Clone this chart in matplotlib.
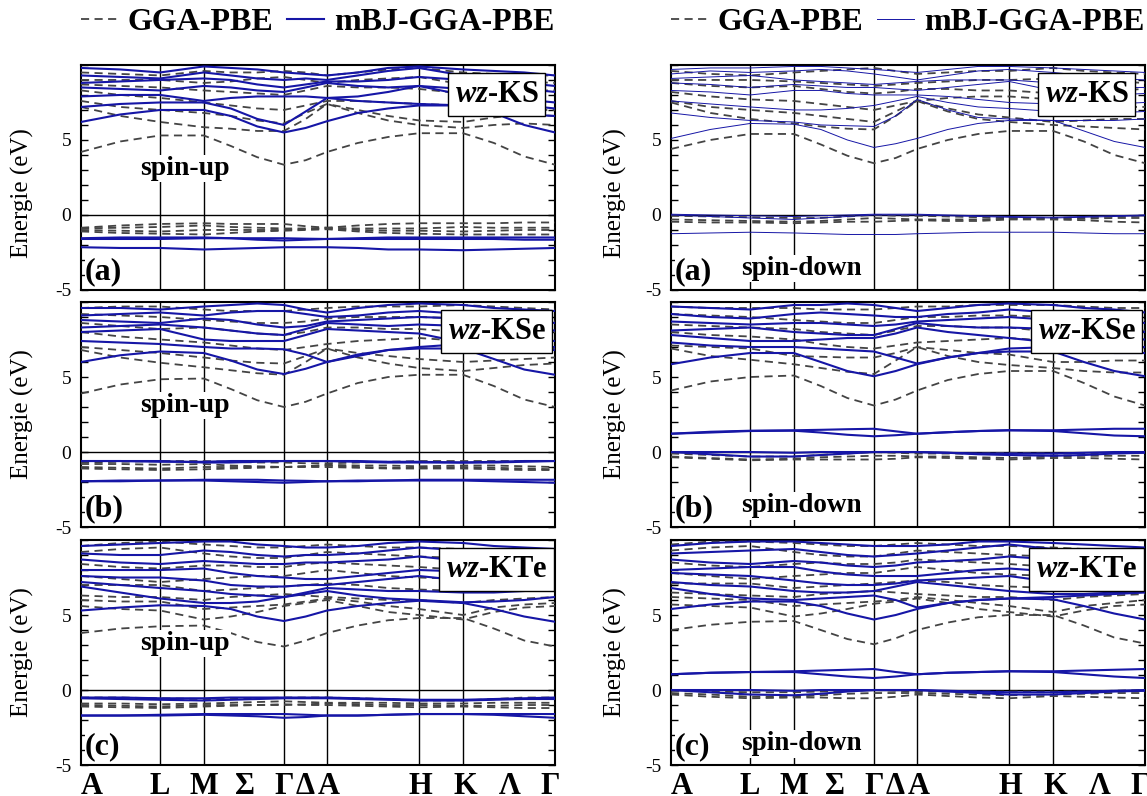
import matplotlib
matplotlib.use('Agg')
import matplotlib.pyplot as plt
from matplotlib.lines import Line2D
from matplotlib.ticker import MultipleLocator

plt.rcParams['font.family'] = ['Liberation Serif', 'DejaVu Serif']
plt.rcParams['mathtext.fontset'] = 'custom'
plt.rcParams['mathtext.it'] = 'Liberation Serif:italic:bold'
plt.rcParams['axes.unicode_minus'] = False

# k path (fraction of path length) and high-symmetry points
kgrid = [0.0, 0.083, 0.167, 0.259, 0.316, 0.372, 0.428, 0.474, 0.519,
         0.584, 0.648, 0.713, 0.806, 0.871, 0.935, 1.0]
kpoints = [0.0, 0.167, 0.259, 0.428, 0.519, 0.713, 0.806, 1.0]
klabel_pos = [0.023, 0.167, 0.259, 0.346, 0.428, 0.472, 0.522, 0.715, 0.81, 0.905, 0.99]
klabels = ['A', 'L', 'M', 'Σ', 'Γ', 'Δ', 'A', 'H', 'K', 'Λ', 'Γ']

# ---- wz-KS spin-up
ks_up_gga = [
    [4.2, 4.9, 5.3, 5.3, 4.6, 3.85, 3.35, 3.65, 4.2, 4.8, 5.2, 5.45, 5.45, 4.8, 3.9, 3.35],
    [7.2, 6.6, 6.2, 5.85, 5.75, 5.6, 5.6, 6.4, 7.4, 6.8, 6.3, 6.0, 5.8, 6.0, 6.1, 6.0],
    [7.6, 7.2, 7.0, 6.8, 6.6, 6.3, 6.1, 6.8, 7.4, 7.0, 6.6, 6.3, 6.2, 6.5, 6.7, 6.6],
    [8.3, 8.0, 7.8, 7.5, 7.3, 7.1, 7.0, 7.3, 7.6, 7.6, 7.5, 7.4, 7.3, 7.1, 7.0, 7.0],
    [8.7, 8.6, 8.5, 8.3, 8.2, 8.1, 8.0, 8.3, 8.6, 8.5, 8.5, 8.4, 8.1, 8.2, 8.3, 8.3],
    [9.0, 9.0, 9.0, 8.8, 8.9, 9.1, 9.2, 9.0, 8.8, 9.0, 9.1, 9.2, 8.7, 8.8, 8.9, 8.8],
    [9.5, 9.4, 9.3, 9.6, 9.5, 9.5, 9.6, 9.5, 9.3, 9.5, 9.7, 9.8, 9.5, 9.4, 9.3, 9.3],
    [-0.85, -0.7, -0.6, -0.55, -0.6, -0.6, -0.6, -0.75, -0.85, -0.7, -0.6, -0.55, -0.55, -0.55, -0.5, -0.5],
    [-0.9, -0.85, -0.8, -0.7, -0.8, -0.85, -0.9, -0.9, -0.85, -0.9, -0.9, -0.9, -0.8, -0.85, -0.85, -0.85],
    [-1.0, -1.05, -1.1, -1.0, -1.0, -1.0, -1.0, -0.95, -0.9, -1.0, -1.05, -1.05, -1.1, -1.05, -1.0, -1.0],
    [-1.1, -1.2, -1.25, -1.3, -1.2, -1.1, -1.05, -1.0, -0.95, -1.1, -1.2, -1.25, -1.3, -1.3, -1.3, -1.3],
]
ks_up_mbj = [
    [6.2, 6.7, 7.0, 7.0, 6.6, 5.9, 5.5, 5.8, 6.25, 6.8, 7.1, 7.3, 7.3, 6.8, 6.0, 5.5],
    [7.2, 7.4, 7.5, 7.5, 7.1, 6.4, 6.0, 6.9, 7.8, 7.6, 7.5, 7.4, 7.3, 7.0, 6.7, 6.6],
    [7.9, 8.0, 8.0, 7.6, 7.8, 7.9, 7.9, 7.9, 7.8, 7.9, 8.2, 8.6, 8.0, 7.6, 7.3, 7.1],
    [8.5, 8.4, 8.3, 8.6, 8.5, 8.3, 8.2, 8.5, 8.8, 8.6, 8.5, 8.6, 8.4, 8.0, 7.7, 7.5],
    [8.8, 8.9, 9.0, 9.1, 9.0, 8.7, 8.5, 8.7, 8.9, 8.9, 9.0, 9.2, 9.0, 8.6, 8.4, 8.2],
    [9.3, 9.2, 9.1, 9.5, 9.3, 9.1, 9.0, 9.1, 9.0, 9.3, 9.6, 9.8, 9.3, 9.0, 8.8, 8.6],
    [9.8, 9.7, 9.5, 9.9, 9.8, 9.7, 9.5, 9.4, 9.3, 9.5, 9.8, 9.9, 9.7, 9.6, 9.5, 9.3],
    [-1.55, -1.5, -1.5, -1.5, -1.55, -1.65, -1.7, -1.65, -1.6, -1.55, -1.5, -1.5, -1.5, -1.5, -1.5, -1.5],
    [-1.6, -1.6, -1.6, -1.55, -1.55, -1.55, -1.55, -1.58, -1.6, -1.6, -1.6, -1.6, -1.6, -1.6, -1.65, -1.65],
    [-2.15, -2.2, -2.2, -2.3, -2.25, -2.2, -2.15, -2.15, -2.15, -2.2, -2.3, -2.3, -2.35, -2.3, -2.25, -2.2],
]

# ---- wz-KS spin-down
ks_dn_gga = [
    [4.4, 5.0, 5.4, 5.4, 4.7, 3.95, 3.45, 3.8, 4.4, 5.0, 5.4, 5.6, 5.6, 4.9, 4.0, 3.45],
    [7.5, 6.8, 6.4, 6.1, 5.9, 5.75, 5.7, 6.6, 7.6, 6.9, 6.4, 6.2, 6.0, 5.9, 5.8, 5.7],
    [7.6, 7.2, 7.0, 6.8, 6.6, 6.4, 6.2, 6.9, 7.6, 7.1, 6.7, 6.5, 6.2, 6.3, 6.4, 6.4],
    [8.2, 7.9, 7.7, 7.6, 7.4, 7.2, 7.0, 7.3, 7.6, 7.8, 7.9, 7.9, 7.7, 7.4, 7.2, 7.2],
    [8.8, 8.6, 8.5, 8.6, 8.4, 8.2, 8.1, 8.2, 8.4, 8.4, 8.3, 8.3, 8.1, 8.2, 8.3, 8.4],
    [9.0, 9.0, 9.0, 8.9, 8.8, 8.7, 8.6, 8.7, 8.8, 8.9, 9.0, 9.0, 9.1, 9.0, 8.9, 8.8],
    [9.6, 9.4, 9.3, 9.5, 9.6, 9.7, 9.8, 9.6, 9.4, 9.5, 9.6, 9.6, 9.8, 9.6, 9.5, 9.4],
    [-0.05, -0.1, -0.15, -0.2, -0.2, -0.1, 0.0, -0.05, -0.05, -0.1, -0.15, -0.2, -0.2, -0.15, -0.1, -0.05],
    [-0.3, -0.35, -0.4, -0.45, -0.4, -0.3, -0.2, -0.25, -0.3, -0.3, -0.3, -0.25, -0.25, -0.25, -0.2, -0.2],
    [-0.45, -0.5, -0.5, -0.55, -0.5, -0.45, -0.45, -0.4, -0.35, -0.4, -0.4, -0.3, -0.3, -0.35, -0.45, -0.5],
]
ks_dn_mbj = [
    [5.1, 5.7, 6.1, 6.05, 5.7, 5.0, 4.5, 4.75, 5.1, 5.7, 6.1, 6.3, 6.3, 5.6, 4.9, 4.5],
    [6.8, 6.5, 6.3, 6.2, 6.0, 5.95, 5.9, 6.6, 7.7, 7.0, 6.5, 6.4, 6.3, 6.3, 6.3, 6.4],
    [7.6, 7.4, 7.2, 7.0, 7.0, 7.1, 7.3, 7.6, 7.9, 7.5, 7.2, 7.1, 6.9, 6.8, 6.8, 6.9],
    [8.3, 8.2, 8.0, 8.3, 8.3, 8.1, 8.0, 8.0, 8.0, 7.9, 7.7, 7.5, 7.4, 7.3, 7.4, 7.5],
    [8.8, 8.7, 8.5, 8.7, 8.6, 8.5, 8.5, 8.4, 8.3, 8.5, 8.7, 8.9, 8.3, 8.1, 8.0, 8.1],
    [9.1, 9.2, 9.3, 9.0, 8.9, 8.8, 8.7, 8.8, 8.9, 9.0, 9.0, 9.0, 8.8, 8.6, 8.5, 8.5],
    [9.4, 9.6, 9.5, 9.6, 9.7, 9.6, 9.4, 9.2, 9.0, 9.3, 9.6, 9.7, 9.5, 9.3, 9.1, 9.0],
    [9.7, 9.8, 9.8, 9.9, 9.9, 9.8, 9.7, 9.6, 9.5, 9.7, 9.9, 9.9, 9.8, 9.7, 9.6, 9.5],
    [0.05, 0.0, -0.05, -0.1, -0.05, 0.0, 0.05, 0.05, 0.05, 0.0, -0.05, -0.1, -0.15, -0.1, -0.05, 0.0],
    [0.0, -0.1, -0.2, -0.3, -0.2, -0.1, 0.0, 0.0, 0.0, -0.05, -0.1, -0.15, -0.2, -0.15, -0.1, -0.05],
    [-1.25, -1.2, -1.15, -1.2, -1.25, -1.3, -1.3, -1.3, -1.25, -1.2, -1.15, -1.15, -1.15, -1.2, -1.25, -1.25],
]

# ---- wz-KSe spin-up
kse_up_gga = [
    [3.9, 4.5, 4.85, 4.9, 4.2, 3.45, 3.0, 3.35, 3.9, 4.6, 5.0, 5.15, 5.15, 4.4, 3.5, 3.0],
    [6.8, 6.3, 5.95, 5.65, 5.45, 5.25, 5.15, 6.0, 6.9, 6.3, 5.9, 5.6, 5.4, 5.6, 5.8, 5.9],
    [7.0, 6.8, 6.6, 6.3, 6.1, 5.95, 5.9, 6.4, 6.9, 6.6, 6.4, 6.2, 6.0, 6.1, 6.2, 6.3],
    [8.0, 7.7, 7.5, 7.3, 7.1, 6.9, 6.8, 7.0, 7.2, 7.4, 7.5, 7.6, 7.4, 7.2, 7.0, 6.9],
    [8.6, 8.4, 8.2, 8.3, 8.1, 7.9, 7.8, 8.0, 8.3, 8.3, 8.2, 8.2, 8.0, 8.0, 8.0, 8.0],
    [9.2, 9.1, 9.0, 8.8, 8.7, 8.6, 8.6, 8.7, 8.9, 9.0, 9.0, 9.0, 8.9, 8.8, 8.7, 8.7],
    [9.6, 9.7, 9.7, 9.5, 9.4, 9.4, 9.4, 9.5, 9.6, 9.7, 9.7, 9.7, 9.8, 9.7, 9.6, 9.5],
    [-0.7, -0.65, -0.6, -0.6, -0.65, -0.7, -0.7, -0.75, -0.75, -0.7, -0.65, -0.6, -0.6, -0.6, -0.6, -0.6],
    [-0.8, -0.8, -0.85, -0.8, -0.9, -0.95, -1.0, -0.95, -0.85, -0.9, -0.9, -0.95, -0.9, -0.9, -0.95, -1.0],
    [-1.0, -1.05, -1.1, -1.0, -1.0, -1.0, -1.0, -0.95, -0.9, -1.0, -1.05, -1.05, -1.0, -1.05, -1.1, -1.15],
    [-1.1, -1.15, -1.2, -1.15, -1.1, -1.05, -1.0, -1.0, -1.0, -1.05, -1.1, -1.1, -1.1, -1.15, -1.2, -1.2],
]
kse_up_mbj = [
    [6.0, 6.45, 6.7, 6.6, 6.1, 5.5, 5.2, 5.55, 6.0, 6.5, 6.8, 6.9, 6.9, 6.2, 5.5, 5.15],
    [7.4, 7.3, 7.2, 7.0, 6.9, 6.9, 6.85, 6.5, 6.0, 6.4, 6.8, 7.0, 7.2, 7.0, 6.8, 6.8],
    [8.0, 8.1, 8.2, 7.5, 7.4, 7.4, 7.4, 7.8, 8.2, 8.1, 8.0, 7.9, 7.3, 7.0, 6.9, 7.0],
    [8.3, 8.4, 8.5, 8.3, 8.1, 7.9, 7.8, 8.2, 8.6, 8.5, 8.4, 8.5, 8.4, 8.0, 7.6, 7.4],
    [8.8, 8.7, 8.6, 8.9, 8.8, 8.5, 8.3, 8.4, 8.7, 8.8, 8.9, 9.0, 8.9, 8.5, 8.2, 8.1],
    [9.1, 9.2, 9.3, 9.1, 9.3, 9.4, 9.4, 9.2, 9.0, 9.1, 9.3, 9.4, 9.2, 9.0, 8.8, 8.6],
    [9.6, 9.6, 9.5, 9.7, 9.8, 9.9, 9.8, 9.5, 9.3, 9.6, 9.8, 9.9, 9.8, 9.6, 9.5, 9.4],
    [-0.6, -0.6, -0.65, -0.65, -0.6, -0.6, -0.6, -0.6, -0.6, -0.65, -0.7, -0.7, -0.7, -0.65, -0.6, -0.6],
    [-0.6, -0.6, -0.6, -0.7, -0.7, -0.65, -0.6, -0.6, -0.6, -0.6, -0.65, -0.65, -0.7, -0.7, -0.65, -0.6],
    [-1.95, -1.9, -1.9, -1.9, -1.95, -2.0, -2.05, -2.0, -1.95, -1.9, -1.9, -1.9, -1.9, -1.95, -2.0, -2.05],
    [-1.95, -1.95, -1.9, -1.85, -1.85, -1.85, -1.9, -1.92, -1.95, -1.95, -1.9, -1.85, -1.85, -1.85, -1.85, -1.85],
]

# ---- wz-KSe spin-down
kse_dn_gga = [
    [4.1, 4.7, 5.0, 5.1, 4.4, 3.6, 3.1, 3.5, 4.1, 4.8, 5.2, 5.4, 5.4, 4.6, 3.7, 3.1],
    [6.9, 6.4, 6.15, 5.85, 5.6, 5.35, 5.2, 6.1, 7.0, 6.4, 6.0, 5.8, 5.6, 5.4, 5.3, 5.3],
    [7.1, 7.0, 6.9, 6.4, 6.35, 6.3, 6.3, 6.6, 7.0, 6.8, 6.6, 6.5, 6.0, 6.0, 6.1, 6.1],
    [8.0, 7.8, 7.7, 7.5, 7.2, 7.0, 6.9, 7.1, 7.3, 7.4, 7.5, 7.6, 7.4, 7.2, 7.0, 7.0],
    [8.5, 8.4, 8.3, 8.2, 8.0, 7.9, 7.8, 8.1, 8.4, 8.4, 8.3, 8.3, 8.0, 8.0, 8.1, 8.1],
    [9.2, 9.1, 9.0, 8.8, 8.7, 8.6, 8.6, 8.8, 9.0, 9.0, 9.1, 9.1, 9.0, 8.9, 8.8, 8.8],
    [9.7, 9.6, 9.6, 9.6, 9.5, 9.5, 9.5, 9.6, 9.7, 9.7, 9.8, 9.8, 9.8, 9.7, 9.6, 9.6],
    [-0.1, -0.2, -0.3, -0.3, -0.2, -0.1, 0.0, -0.05, -0.1, -0.1, -0.1, -0.05, -0.1, -0.1, -0.05, 0.0],
    [-0.3, -0.4, -0.5, -0.45, -0.35, -0.3, -0.25, -0.25, -0.3, -0.3, -0.35, -0.4, -0.3, -0.25, -0.25, -0.25],
    [-0.35, -0.45, -0.55, -0.5, -0.5, -0.5, -0.5, -0.45, -0.35, -0.4, -0.45, -0.5, -0.4, -0.4, -0.45, -0.5],
]
kse_dn_mbj = [
    [5.85, 6.3, 6.6, 6.6, 6.0, 5.4, 5.05, 5.4, 5.85, 6.3, 6.6, 6.7, 6.7, 6.0, 5.4, 5.05],
    [7.3, 7.1, 7.0, 7.0, 6.9, 6.8, 6.7, 6.3, 5.9, 6.3, 6.6, 6.9, 7.0, 6.8, 6.6, 6.6],
    [7.8, 7.6, 7.4, 7.4, 7.5, 7.6, 7.6, 7.9, 8.3, 8.0, 7.8, 7.6, 7.3, 7.0, 6.9, 7.0],
    [8.1, 8.2, 8.3, 8.0, 7.9, 7.8, 7.8, 8.2, 8.6, 8.4, 8.3, 8.3, 8.2, 7.9, 7.6, 7.5],
    [8.7, 8.6, 8.5, 8.6, 8.6, 8.5, 8.4, 8.5, 8.7, 8.8, 8.9, 9.0, 8.8, 8.4, 8.2, 8.0],
    [9.2, 9.0, 8.9, 9.2, 9.3, 9.2, 9.1, 9.0, 9.0, 9.2, 9.3, 9.5, 9.3, 9.0, 8.8, 8.6],
    [9.7, 9.6, 9.5, 9.8, 9.8, 9.9, 9.8, 9.6, 9.4, 9.6, 9.8, 9.9, 9.8, 9.6, 9.5, 9.3],
    [1.22, 1.35, 1.42, 1.45, 1.48, 1.52, 1.55, 1.38, 1.22, 1.32, 1.4, 1.45, 1.45, 1.5, 1.55, 1.55],
    [1.22, 1.3, 1.4, 1.42, 1.3, 1.15, 1.05, 1.12, 1.22, 1.32, 1.4, 1.45, 1.4, 1.25, 1.1, 1.05],
    [0.0, 0.0, 0.0, -0.05, 0.0, 0.0, 0.0, 0.0, 0.0, -0.05, -0.1, -0.1, -0.1, -0.05, 0.0, 0.0],
    [0.0, -0.15, -0.3, -0.3, -0.2, -0.1, 0.0, 0.0, 0.0, -0.05, -0.15, -0.2, -0.25, -0.2, -0.1, -0.05],
]

# ---- wz-KTe spin-up
kte_up_gga = [
    [3.8, 4.1, 4.25, 4.3, 3.8, 3.2, 2.9, 3.3, 3.8, 4.3, 4.65, 4.8, 4.8, 4.1, 3.3, 2.9],
    [5.6, 5.4, 5.3, 4.7, 4.9, 5.2, 5.6, 5.8, 6.0, 5.6, 5.2, 5.0, 4.7, 5.2, 5.5, 5.6],
    [6.0, 5.9, 5.9, 5.4, 5.5, 5.6, 5.7, 5.9, 6.1, 5.9, 5.6, 5.4, 5.0, 5.5, 5.7, 5.8],
    [6.3, 6.2, 6.2, 6.0, 6.2, 6.3, 6.4, 6.3, 6.2, 6.1, 6.0, 6.0, 5.8, 6.0, 6.1, 6.2],
    [7.0, 7.0, 7.0, 6.6, 6.7, 6.8, 6.9, 7.0, 7.1, 7.0, 6.8, 6.7, 6.6, 6.7, 6.8, 6.9],
    [7.6, 7.4, 7.2, 7.4, 7.5, 7.6, 7.6, 7.8, 8.0, 7.8, 7.6, 7.5, 7.4, 7.3, 7.2, 7.2],
    [8.4, 8.2, 8.1, 8.3, 8.3, 8.2, 8.2, 8.4, 8.5, 8.4, 8.3, 8.2, 8.0, 7.9, 7.8, 7.8],
    [9.2, 9.4, 9.5, 9.1, 8.9, 8.8, 8.8, 9.0, 9.2, 9.1, 9.0, 8.9, 8.8, 8.6, 8.5, 8.5],
    [9.6, 9.8, 9.9, 9.7, 9.6, 9.5, 9.5, 9.6, 9.7, 9.6, 9.5, 9.5, 9.4, 9.3, 9.2, 9.2],
    [-0.5, -0.5, -0.55, -0.6, -0.6, -0.55, -0.5, -0.5, -0.5, -0.55, -0.6, -0.7, -0.7, -0.6, -0.5, -0.5],
    [-0.9, -0.9, -0.95, -0.9, -0.85, -0.8, -0.75, -0.8, -0.85, -0.85, -0.85, -0.9, -0.9, -0.85, -0.85, -0.85],
    [-1.0, -1.05, -1.1, -1.0, -1.0, -1.0, -1.0, -0.95, -0.9, -0.95, -1.0, -1.0, -1.05, -1.05, -1.0, -1.0],
    [-1.1, -1.15, -1.2, -1.1, -1.05, -1.0, -0.95, -1.0, -1.0, -1.05, -1.1, -1.15, -1.1, -1.15, -1.2, -1.2],
]
kte_up_mbj = [
    [5.3, 5.5, 5.65, 5.6, 5.4, 4.9, 4.6, 4.9, 5.3, 5.6, 5.8, 5.95, 5.8, 5.4, 4.9, 4.55],
    [6.9, 6.5, 6.1, 5.8, 5.8, 5.9, 6.2, 6.4, 6.6, 6.3, 6.1, 6.0, 5.85, 5.9, 6.0, 6.2],
    [7.2, 7.0, 6.8, 6.6, 6.4, 6.3, 6.2, 6.5, 6.8, 6.7, 6.6, 6.6, 6.5, 6.5, 6.6, 6.7],
    [7.6, 7.5, 7.5, 7.3, 7.0, 6.9, 6.9, 7.0, 7.0, 7.2, 7.4, 7.6, 7.3, 7.1, 7.0, 7.0],
    [8.0, 8.0, 8.0, 8.1, 7.8, 7.6, 7.5, 7.4, 7.4, 7.6, 7.8, 8.0, 7.9, 7.7, 7.5, 7.4],
    [8.7, 8.5, 8.4, 8.6, 8.5, 8.4, 8.4, 8.5, 8.5, 8.6, 8.7, 8.9, 8.6, 8.4, 8.2, 8.1],
    [9.1, 9.0, 9.0, 9.3, 9.2, 9.0, 8.9, 9.0, 9.0, 9.1, 9.3, 9.5, 9.3, 9.0, 8.9, 8.8],
    [9.6, 9.7, 9.8, 9.9, 9.9, 9.7, 9.6, 9.5, 9.5, 9.6, 9.8, 9.9, 9.8, 9.6, 9.5, 9.4],
    [-0.5, -0.5, -0.55, -0.55, -0.5, -0.5, -0.5, -0.5, -0.5, -0.55, -0.6, -0.65, -0.65, -0.6, -0.55, -0.5],
    [-0.55, -0.6, -0.65, -0.7, -0.65, -0.6, -0.55, -0.55, -0.55, -0.6, -0.65, -0.7, -0.7, -0.65, -0.6, -0.6],
    [-1.7, -1.7, -1.7, -1.65, -1.7, -1.75, -1.85, -1.8, -1.7, -1.7, -1.65, -1.6, -1.6, -1.65, -1.75, -1.85],
    [-1.7, -1.7, -1.65, -1.6, -1.6, -1.6, -1.6, -1.65, -1.7, -1.7, -1.65, -1.6, -1.6, -1.6, -1.6, -1.6],
]

# ---- wz-KTe spin-down
kte_dn_gga = [
    [4.0, 4.35, 4.55, 4.6, 4.0, 3.4, 3.05, 3.45, 4.0, 4.5, 4.85, 5.0, 5.0, 4.3, 3.5, 3.1],
    [5.7, 5.6, 5.5, 4.9, 5.1, 5.4, 5.75, 5.9, 6.1, 5.8, 5.4, 5.2, 4.9, 5.3, 5.6, 5.7],
    [6.2, 6.1, 6.0, 5.6, 5.7, 5.8, 5.9, 6.0, 6.2, 6.0, 5.8, 5.6, 5.2, 5.6, 5.8, 6.0],
    [6.5, 6.4, 6.3, 6.2, 6.4, 6.5, 6.6, 6.5, 6.4, 6.3, 6.2, 6.2, 6.0, 6.2, 6.3, 6.4],
    [7.1, 7.1, 7.1, 6.8, 6.9, 7.0, 7.1, 7.2, 7.3, 7.2, 7.0, 6.9, 6.8, 6.9, 7.0, 7.1],
    [7.8, 7.6, 7.4, 7.6, 7.7, 7.8, 7.8, 8.0, 8.2, 8.0, 7.8, 7.7, 7.6, 7.5, 7.4, 7.4],
    [8.5, 8.3, 8.2, 8.4, 8.5, 8.4, 8.4, 8.5, 8.7, 8.6, 8.5, 8.4, 8.2, 8.1, 8.0, 8.0],
    [9.3, 9.5, 9.6, 9.2, 9.0, 8.9, 8.9, 9.1, 9.3, 9.2, 9.1, 9.0, 8.9, 8.7, 8.6, 8.6],
    [9.7, 9.9, 9.9, 9.8, 9.7, 9.6, 9.6, 9.7, 9.8, 9.7, 9.6, 9.6, 9.5, 9.4, 9.3, 9.3],
    [-0.05, -0.1, -0.15, -0.15, -0.1, -0.05, 0.0, -0.05, -0.1, -0.1, -0.1, -0.1, -0.1, -0.1, -0.05, 0.0],
    [-0.2, -0.3, -0.45, -0.45, -0.35, -0.25, -0.2, -0.2, -0.2, -0.25, -0.3, -0.35, -0.3, -0.25, -0.2, -0.2],
    [-0.3, -0.45, -0.55, -0.5, -0.5, -0.55, -0.55, -0.45, -0.3, -0.4, -0.5, -0.55, -0.4, -0.45, -0.5, -0.55],
]
kte_dn_mbj = [
    [5.4, 5.7, 5.9, 5.9, 5.6, 5.1, 4.7, 5.0, 5.4, 5.8, 6.0, 6.1, 6.05, 5.6, 5.1, 4.7],
    [6.8, 6.4, 6.1, 6.0, 6.1, 6.2, 6.3, 6.0, 5.5, 5.8, 6.0, 6.1, 6.2, 6.3, 6.4, 6.5],
    [7.2, 7.0, 6.9, 6.6, 6.5, 6.5, 6.6, 6.9, 7.2, 7.0, 6.8, 6.6, 6.4, 6.4, 6.5, 6.6],
    [7.8, 7.7, 7.6, 7.3, 7.1, 7.0, 7.0, 7.1, 7.3, 7.4, 7.5, 7.6, 7.2, 7.0, 6.9, 6.9],
    [8.0, 8.1, 8.2, 8.2, 7.9, 7.7, 7.6, 7.6, 7.6, 7.8, 8.0, 8.1, 7.9, 7.7, 7.5, 7.4],
    [8.7, 8.5, 8.4, 8.6, 8.5, 8.3, 8.2, 8.3, 8.5, 8.6, 8.7, 8.9, 8.7, 8.4, 8.2, 8.1],
    [9.1, 9.2, 9.3, 9.4, 9.2, 9.0, 8.9, 9.0, 9.1, 9.3, 9.5, 9.7, 9.4, 9.1, 8.9, 8.8],
    [9.6, 9.8, 9.9, 9.9, 9.8, 9.7, 9.6, 9.6, 9.6, 9.7, 9.9, 9.9, 9.8, 9.7, 9.6, 9.5],
    [1.05, 1.15, 1.2, 1.25, 1.3, 1.35, 1.4, 1.2, 1.05, 1.15, 1.2, 1.25, 1.25, 1.3, 1.35, 1.4],
    [1.05, 1.15, 1.2, 1.2, 1.05, 0.9, 0.8, 0.9, 1.05, 1.15, 1.2, 1.25, 1.2, 1.05, 0.9, 0.8],
    [0.0, 0.0, 0.0, -0.05, 0.0, 0.0, 0.0, 0.0, 0.0, -0.05, -0.1, -0.15, -0.15, -0.1, -0.05, 0.0],
    [0.0, -0.15, -0.3, -0.35, -0.25, -0.1, 0.0, 0.0, 0.0, -0.1, -0.2, -0.3, -0.3, -0.2, -0.1, -0.05],
]

BLUE = '#1616a6'
GRAY = '#444444'
DASH = (4.5, 3)

fig = plt.figure(figsize=(11.47, 7.96), dpi=100)

col_x = [0.0706, 0.585]
row_y = [0.6357, 0.3379, 0.0389]
w, h = 0.4133, 0.2827

panels = [
    (0, 0, ks_up_gga, ks_up_mbj, 'KS', 'spin-up', '(a)', 1.5),
    (0, 1, ks_dn_gga, ks_dn_mbj, 'KS', 'spin-down', '(a)', 0.7),
    (1, 0, kse_up_gga, kse_up_mbj, 'KSe', 'spin-up', '(b)', 1.5),
    (1, 1, kse_dn_gga, kse_dn_mbj, 'KSe', 'spin-down', '(b)', 1.5),
    (2, 0, kte_up_gga, kte_up_mbj, 'KTe', 'spin-up', '(c)', 1.5),
    (2, 1, kte_dn_gga, kte_dn_mbj, 'KTe', 'spin-down', '(c)', 1.5),
]

for row, col, gga, mbj, name, spin, tag, blw in panels:
    ax = fig.add_axes([col_x[col], row_y[row], w, h])
    for band in gga:
        ax.plot(kgrid, band, color=GRAY, lw=1.3, dashes=DASH, zorder=3)
    for band in mbj:
        ax.plot(kgrid, band, color=BLUE, lw=blw, zorder=4)
    for k in kpoints[1:-1]:
        ax.axvline(k, color='black', lw=1.0, zorder=2)
    ax.axhline(0, color='black', lw=1.0, zorder=2)

    ax.set_xlim(0, 1)
    ax.set_ylim(-5, 10)
    ax.set_yticks([-5, 0, 5])
    ax.yaxis.set_minor_locator(MultipleLocator(1))
    ax.tick_params(axis='y', which='both', direction='in', left=True, right=True,
                   length=5, width=1, labelsize=14, pad=7)
    ax.tick_params(axis='x', length=0, pad=5)
    if row == 2:
        ax.set_xticks(klabel_pos)
        ax.set_xticklabels(klabels, fontsize=22, fontweight='bold')
    else:
        ax.set_xticks([])
    for sp in ax.spines.values():
        sp.set_linewidth(1.5)

    ax.set_ylabel('Energie (eV)', fontsize=18)
    ax.yaxis.set_label_coords(-0.099 if col == 0 else -0.093,
                              0.43 if row == 0 else 0.5)

    ax.text(0.877, 0.868, r'$\mathit{wz}$-' + name, transform=ax.transAxes,
            ha='center', va='center', fontsize=22, fontweight='bold', zorder=10,
            bbox=dict(boxstyle='square,pad=0.22', fc='white', ec='black', lw=1))
    if spin == 'spin-up':
        ax.text(0.22, 0.54, spin, transform=ax.transAxes, ha='center', va='center',
                fontsize=20, fontweight='bold', zorder=10,
                bbox=dict(fc='white', ec='none', pad=1))
    else:
        ax.text(0.274, 0.095, spin, transform=ax.transAxes, ha='center', va='center',
                fontsize=19.5, fontweight='bold', zorder=10,
                bbox=dict(fc='white', ec='none', pad=1))
    ax.text(0.008, 0.08, tag, transform=ax.transAxes, ha='left', va='center',
            fontsize=23, fontweight='bold', zorder=10,
            bbox=dict(fc='white', ec='none', pad=0))

    if row == 0:
        handles = [Line2D([], [], color=GRAY, lw=1.3, dashes=DASH),
                   Line2D([], [], color=BLUE, lw=blw)]
        ax.legend(handles, ['GGA-PBE', 'mBJ-GGA-PBE'], loc='center left',
                  bbox_to_anchor=(0.0, 1.19), ncol=2, frameon=False,
                  prop={'size': 23, 'weight': 'bold'}, handlelength=1.15,
                  handletextpad=0.3, columnspacing=0.45, borderpad=0,
                  borderaxespad=0)

fig.savefig('out.png', dpi=100)
